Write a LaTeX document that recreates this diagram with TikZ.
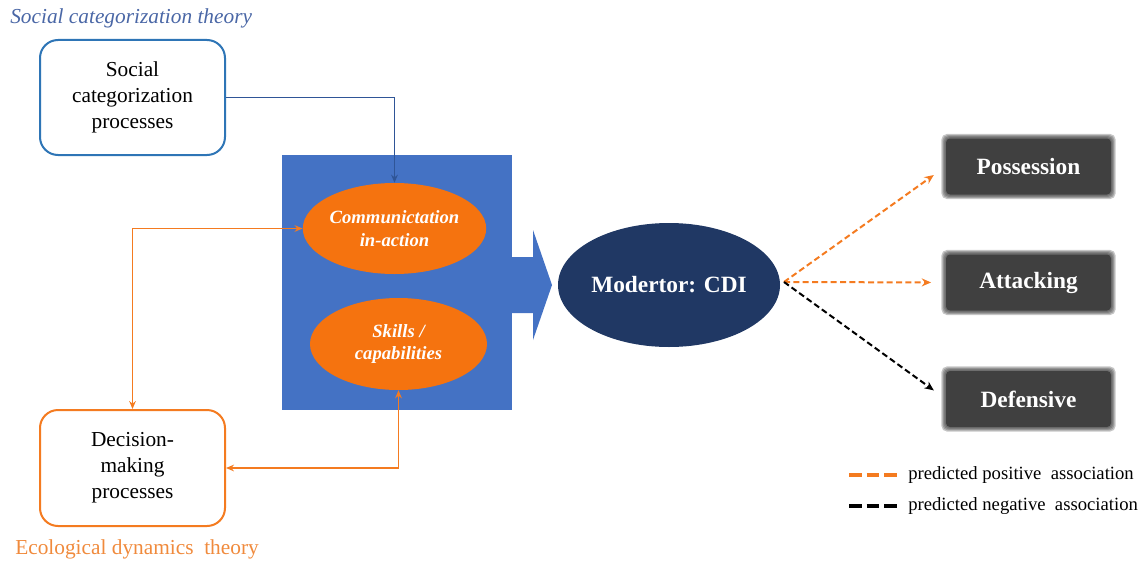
\documentclass[tikz,border=0pt]{standalone}
\usepackage{fontspec}
\setmainfont{Liberation Serif}
\usetikzlibrary{shapes.geometric,arrows.meta,backgrounds,calc}

\definecolor{theoryblue}{HTML}{4A67A6}
\definecolor{boxblue}{HTML}{2E75B6}
\definecolor{linkblue}{HTML}{2F5597}
\definecolor{panelblue}{HTML}{4472C4}
\definecolor{accent}{HTML}{F5730F}
\definecolor{edgeorange}{HTML}{F47B20}
\definecolor{theoryorange}{HTML}{F08A3C}
\definecolor{navy}{HTML}{203864}
\definecolor{slate}{HTML}{404040}

\tikzset{
  procbox/.style={draw, line width=1.5pt, rounded corners=13.5pt, fill=white,
    minimum width=138.75pt, minimum height=86.25pt, align=center, text=black,
    font=\fontsize{16}{19.5}\selectfont},
  factor/.style={ellipse, fill=accent, inner sep=0pt, minimum width=132.75pt,
    minimum height=68.25pt, align=center, text=white,
    font=\fontsize{14}{17}\selectfont\bfseries\itshape},
  outcome/.style={fill=slate, rounded corners=3pt, minimum width=123.75pt,
    minimum height=42pt, inner sep=0pt, text=white,
    font=\fontsize{17.5}{20}\selectfont\bfseries},
  link/.style={line width=1.4pt, -{Stealth[length=6pt,width=5pt]}},
  twoway/.style={line width=1.4pt, {Stealth[length=6pt,width=5pt]}-{Stealth[length=6pt,width=5pt]}},
  predict/.style={line width=1.5pt, dash pattern=on 4.5pt off 2.5pt,
    -{Stealth[length=7pt,width=6pt]}, shorten >=11pt},
  legendline/.style={line width=2.4pt, dash pattern=on 9.5pt off 3.8pt},
  legendtext/.style={anchor=west, inner sep=0pt, font=\fontsize{14}{17}\selectfont},
  theory/.style={anchor=west, inner sep=0pt, font=\fontsize{16}{19}\selectfont}
}

\begin{document}
\begin{tikzpicture}[x=0.75pt, y=-0.75pt]
  \useasboundingbox (0,0) rectangle (1144,567);

  % theory labels
  \node[theory, text=theoryblue, font=\fontsize{16}{19}\selectfont\itshape] (sct) at (10,18) {Social categorization theory};
  \node[theory, text=theoryorange] (edt) at (15,549) {Ecological dynamics\ \ theory};

  % process boxes
  \node[procbox, draw=boxblue] (scb) at (132.5,97.5) {Social\\categorization\\processes};
  \node[procbox, draw=edgeorange, minimum height=87pt] (dmb) at (132.5,468) {Decision-\\making\\processes};

  % central panel with its outgoing block arrow
  \node[fill=panelblue, minimum width=172.5pt, minimum height=191.25pt, inner sep=0pt] (panel) at (397,282.5) {};
  \fill[panelblue] (511,257) -- (533,257) -- (533,230) -- (552,285) -- (533,340) -- (533,313) -- (511,313) -- cycle;

  \node[factor] (comm) at (394.5,228.5) {Communictation\\in-action};
  \node[factor, minimum height=69pt] (skill) at (398.5,344) {Skills /\\capabilities};

  % moderator
  \node[ellipse, fill=navy, inner sep=0pt, minimum width=166.5pt, minimum height=93pt,
        text=white, font=\fontsize{17.5}{20}\selectfont\bfseries] (cdi) at (669,285) {Modertor: CDI};

  % outcomes, with a soft edge
  \node[outcome] (pos) at (1028.5,166.5) {Possession};
  \node[outcome] (atk) at (1028.5,282.5) {Attacking};
  \node[outcome] (def) at (1028.5,399) {Defensive};
  \begin{scope}[on background layer]
    \foreach \n in {pos,atk,def}{
      \foreach \d in {0.8,1.6,2.4,3.2}{
        \fill[slate, opacity=0.3, rounded corners=4pt]
          ($(\n.south west)+(-\d pt,-\d pt)$) rectangle ($(\n.north east)+(\d pt,\d pt)$);
      }
    }
  \end{scope}

  % links
  \draw[link, linkblue] (scb.east) -| (comm.north);
  \draw[twoway, edgeorange] (dmb.north) |- (comm.west);
  \draw[twoway, edgeorange] (dmb.east) -| (skill.south);

  \coordinate (cdiout) at (784,282);
  \draw[predict, edgeorange] (cdiout) -- (pos.west);
  \draw[predict, edgeorange] (cdiout) -- (atk.west);
  \draw[predict, black] (cdiout) -- (def.west);

  % legend
  \coordinate (lpa) at (849,475);
  \coordinate (lpb) at (898,475);
  \coordinate (lna) at (849,506);
  \coordinate (lnb) at (898,506);
  \draw[legendline, edgeorange] (lpa) -- (lpb);
  \draw[legendline, black] (lna) -- (lnb);
  \node[legendtext] (lpos) at (908,475) {predicted positive\ \ association};
  \node[legendtext] (lneg) at (908,506) {predicted negative\ \ association};
\end{tikzpicture}
\end{document}
